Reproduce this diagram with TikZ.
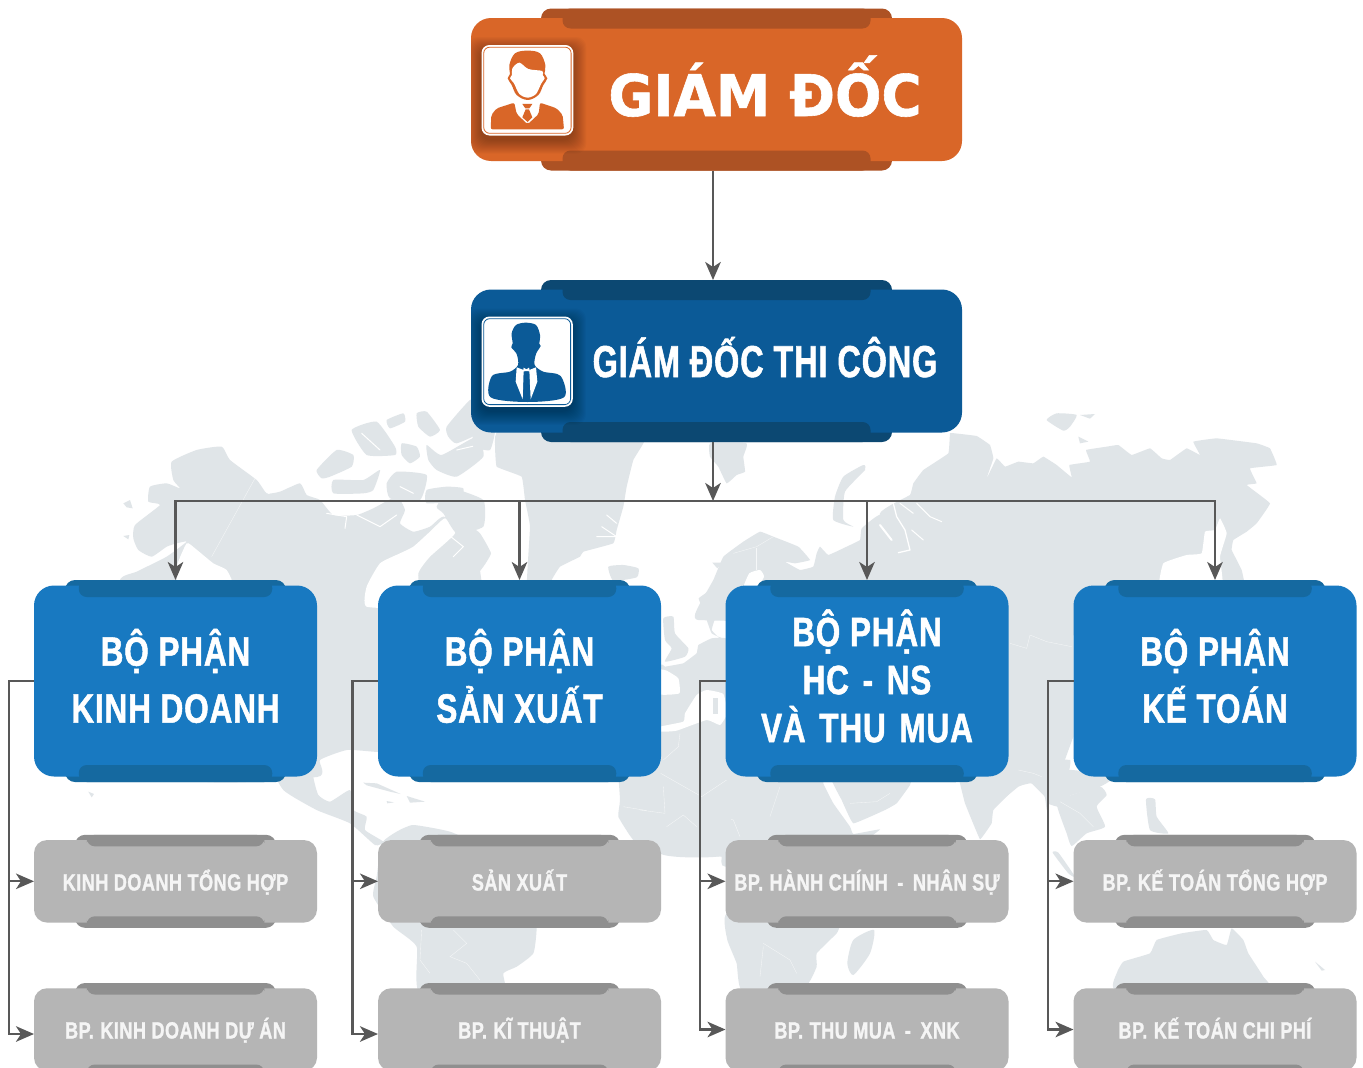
\documentclass[tikz,border=0pt]{standalone}
\usepackage{fontspec}
\usetikzlibrary{arrows.meta}
\newfontfamily\condf[FakeStretch=0.77,FakeBold=1.2,LetterSpace=2]{Liberation Sans Bold}
\newfontfamily\condt[FakeStretch=0.725,FakeBold=1.2,LetterSpace=2]{Liberation Sans Bold}
\newfontfamily\widef[FakeStretch=0.95,FakeBold=1]{DejaVu Sans Bold}
\definecolor{landc}{HTML}{E0E5E8}
\definecolor{linec}{HTML}{585858}
\definecolor{gdm}{HTML}{D96628}\definecolor{gdd}{HTML}{AD5224}
\definecolor{tcm}{HTML}{0B5A97}\definecolor{tcd}{HTML}{0C4872}
\definecolor{dpm}{HTML}{1879C1}\definecolor{dpd}{HTML}{1569A0}
\definecolor{grm}{HTML}{B5B5B5}\definecolor{grd}{HTML}{8F8F8F}
\tikzset{
  zoomed/.style 2 args={shift={(#1,#2)},x=0.33333pt,y=-0.33333pt},
  land/.style={fill=landc},
  sea/.style={fill=white},
  inlet/.style={draw=white,line width=1pt,line join=round,line cap=round},
  border/.style={draw=white,line width=0.35pt,opacity=.7},
  conn/.style={draw=linec,line width=2.3pt,-{Stealth[length=18pt,width=15.5pt,inset=5pt]}},
  panel/.style={inner sep=0pt,outer sep=0pt},
  lab/.style={inner sep=0pt,outer sep=0pt,text=white,align=center},
  big/.style={lab,font=\condf\fontsize{41}{57}\selectfont},
  small/.style={lab,anchor=base,text=white!96!black,font=\condf\fontsize{23.5}{28}\selectfont},
}
\def\setgd{\def\pW{491}\def\pH{143}\def\pR{20}\def\pSW{351}\def\pSH{162}\def\pTW{308}\def\pTD{20}\def\mc{gdm}\def\dc{gdd}}
\def\settc{\def\pW{491}\def\pH{143}\def\pR{20}\def\pSW{351}\def\pSH{162}\def\pTW{308}\def\pTD{20}\def\mc{tcm}\def\dc{tcd}}
\def\setdp{\def\pW{283}\def\pH{191}\def\pR{20}\def\pSW{221}\def\pSH{202}\def\pTW{193.5}\def\pTD{17}\def\mc{dpm}\def\dc{dpd}}
\def\setgr{\def\pW{283}\def\pH{82.5}\def\pR{13}\def\pSW{201}\def\pSH{93}\def\pTW{177.5}\def\pTD{11.5}\def\mc{grm}\def\dc{grd}}
\newcommand\bpgap{\hspace{6.5pt}}
% name, centre x, centre y, kind
\newcommand\orgbox[4]{%
  \csname set#4\endcsname
  \node[panel,fill=\dc,rounded corners=10pt,minimum width=\pSW pt,minimum height=\pSH pt] (#1s) at (#2,#3) {};
  \node[panel,fill=\mc,rounded corners=\pR pt,minimum width=\pW pt,minimum height=\pH pt] (#1) at (#2,#3) {};
  \fill[\dc,rounded corners=8pt] ({#2-\pTW/2},{#3-\pSH/2}) rectangle ({#2+\pTW/2},{#3-\pSH/2+\pTD});
  \fill[\dc,rounded corners=8pt] ({#2-\pTW/2},{#3+\pSH/2}) rectangle ({#2+\pTW/2},{#3+\pSH/2-\pTD});
}
% icon frame: left, top, right, bottom, panel colour, panel name
\newcommand\iconframe[6]{%
  \begin{scope}
  \clip[rounded corners=20pt] (#6.south west) rectangle (#6.north east);
  \foreach \k in {13,12,...,0}{
    \fill[black,opacity=.022,rounded corners=10pt] ({#1-\k-1},{#2-\k+5}) rectangle ({#3+\k},{#4+\k+5});
  }
  \end{scope}
  \fill[white,rounded corners=8pt] (#1,#2) rectangle (#3,#4);
  \draw[#5,line width=0.8pt,rounded corners=6pt] ({#1+2.2},{#2+2.2}) rectangle ({#3-2.2},{#4-2.2});
}
\begin{document}
\begin{tikzpicture}[x=1pt,y=-1pt]
\clip (0,0) rectangle (1363,1068);
\fill[white] (0,0) rectangle (1363,1068);

% ---------- world map ----------
\begin{scope}[zoomed={80}{400}]
  % North America
  \fill[land] plot[smooth cycle,tension=.3] coordinates {(275,185)(350,150)(425,140)(450,180)(530,240)(560,280)(600,275)(660,250)(680,285)(720,300)(760,345)(830,345)(880,325)(950,290)(975,330)(960,370)(1000,395)(1050,380)(1090,350)(1170,380)(1200,400)(1232,460)(1200,500)(1205,560)(1170,620)(1100,800)(1000,1056)(894,1056)(801,1050)(720,1080)(711,1131)(300,1130)(120,700)(120,540)(170,515)(260,470)(320,425)(290,430)(260,440)(215,470)(175,450)(160,415)(165,375)(240,315)(205,305)(210,260)(260,250)(300,265)(280,240)};
  % Gulf of Alaska
  \fill[sea] plot[smooth cycle,tension=.3] coordinates {(290,500)(320,430)(345,445)(400,490)(440,510)(455,560)(300,560)};
  % Hudson Bay
  \fill[sea] plot[smooth cycle,tension=.3] coordinates {(860,560)(900,490)(960,460)(1000,440)(1050,395)(1095,355)(1125,400)(1050,470)(1015,520)(1015,620)(860,620)};
  % Arctic islands
  \fill[land] plot[smooth cycle,tension=.3] coordinates {(815,90)(890,65)(945,140)(945,165)(860,165)};
  \fill[land] plot[smooth cycle,tension=.3] coordinates {(920,60)(970,40)(975,65)(930,85)};
  \fill[land] plot[smooth cycle,tension=.3] coordinates {(1010,40)(1040,35)(1080,90)(1050,110)(1015,80)};
  \fill[land] plot[smooth cycle,tension=.3] coordinates {(1100,80)(1170,0)(1210,0)(1210,90)(1130,130)(1105,110)};
  \fill[land] plot[smooth cycle,tension=.3] coordinates {(965,130)(1010,140)(1020,170)(990,190)(965,165)};
  \fill[land] plot[smooth cycle,tension=.3] coordinates {(1040,135)(1085,165)(1190,110)(1210,170)(1130,230)(1070,210)(1045,180)};
  \fill[land] plot[smooth cycle,tension=.3] coordinates {(710,210)(770,150)(820,165)(815,200)(750,230)(725,235)};
  \fill[land] plot[smooth cycle,tension=.3] coordinates {(760,240)(850,240)(900,210)(880,270)(850,280)(760,280)};
  \fill[land] plot[smooth cycle,tension=.3] coordinates {(920,250)(950,215)(1040,225)(1020,300)(930,295)};
  \fill[land] plot[smooth cycle,tension=.3] coordinates {(1040,270)(1100,260)(1150,265)(1140,300)(1040,310)};
  \fill[land] plot[smooth cycle,tension=.3] coordinates {(1070,320)(1110,265)(1210,300)(1210,380)(1130,400)(1090,340)};
  \fill[land] (130,310)--(150,300)--(158,325)--(140,322)--cycle;
  \fill[land] (130,408)--(148,405)--(145,418)--cycle;
  \draw[border] (525,235)--(395,470);
  \draw[inlet] (565,280)--(640,255);
  \draw[inlet] (740,340)--(800,350)--(795,385);
  \draw[inlet] (830,345)--(900,380)--(950,345);
  \draw[inlet] (845,100)--(900,150);
  \draw[inlet] (1130,150)--(1195,135);
  \draw[inlet] (960,260)--(1000,280);
  \draw[inlet] (1100,400)--(1150,440)--(1120,470);
\end{scope}
\begin{scope}[zoomed={0}{570}]
  \fill[land] (265,665)--(282,672)--(275,682)--cycle;
\end{scope}
\begin{scope}[zoomed={250}{760}]
  % Mexico and Central America
  \fill[land] plot[smooth cycle,tension=.3] coordinates {(60,0)(100,90)(200,150)(300,190)(375,255)(400,245)(345,210)(350,170)(310,150)(300,90)(240,125)(205,105)(190,50)(200,0)};
  % Caribbean
  \fill[land] (340,68)--(380,70)--(452,102)--(420,95)--(350,76)--cycle;
  \fill[land] (470,108)--(525,125)--(480,128)--cycle;
  \fill[land] (410,123)--(432,127)--(412,130)--cycle;
  % South America
  \fill[land] plot[smooth cycle,tension=.3] coordinates {(440,215)(490,195)(600,215)(700,260)(860,340)(860,505)(850,580)(800,620)(760,640)(757,700)(510,700)(500,560)(430,500)(370,410)(380,350)(395,250)};
  \draw[border] (515,510)--(510,600)--(540,640);
  \draw[border] (610,510)--(650,550)--(600,590)--(650,610)--(690,660);
  % West Africa
  \fill[land] plot[smooth cycle,tension=.2] coordinates {(1110,-100)(1110,120)(1105,170)(1150,240)(1230,280)(1280,285)(1350,265)(1440,265)(1440,-100)};
  \draw[border] (1120,140)--(1240,160)--(1210,220);
  \draw[border] (1230,50)--(1340,110);
\end{scope}
\begin{scope}[zoomed={650}{760}]
  % Africa, north and centre
  \fill[land] plot[smooth cycle,tension=.15] coordinates {(0,0)(520,0)(520,70)(550,130)(600,200)(610,222)(690,208)(650,240)(660,270)(226,320)(215,290)(190,288)(130,265)(0,280)};
  % Arabia
  \fill[land] plot[smooth cycle,tension=.15] coordinates {(540,40)(780,40)(780,75)(740,130)(705,150)(610,190)(575,120)};
  \draw[border] (150,150)--(250,180)--(270,230);
  \draw[border] (60,180)--(110,165)--(150,190);
  \draw[border] (360,170)--(390,80);
  \draw[border] (600,130)--(680,125)--(720,100);
  % Southern Africa
  \fill[land] plot[smooth cycle,tension=.2] coordinates {(232,460)(560,460)(570,495)(560,520)(500,580)(500,620)(465,680)(275,690)(260,610)(232,540)};
  \draw[border] (340,560)--(330,650);
  \draw[border] (340,550)--(420,600)--(440,640);
  % Madagascar
  \fill[land] plot[smooth cycle,tension=.4] coordinates {(610,540)(672,510)(660,580)(610,645)(592,610)};
  % India and mainland Asia south of the panels
  \fill[land] plot[smooth cycle,tension=.1] coordinates {(920,0)(930,70)(945,130)(990,238)(1025,190)(1030,150)(1100,80)(1140,70)(1170,75)(1192,130)(1230,140)(1260,0)};
  \draw[border] (1100,75)--(1130,30)--(1170,60);
\end{scope}
\begin{scope}[zoomed={1000}{770}]
  % Indochina
  \fill[land] plot[smooth cycle,tension=.3] coordinates {(120,60)(170,100)(215,75)(300,50)(340,20)(200,0)};
  \fill[land] plot[smooth cycle,tension=.3] coordinates {(170,100)(215,75)(300,50)(320,75)(290,110)(315,170)(260,190)(215,228)(200,190)};
  \draw[border] (180,95)--(240,130)--(280,170);
  % Sumatra and Philippines
  \fill[land] plot[smooth cycle,tension=.3] coordinates {(158,248)(175,248)(225,320)(205,310)};
  \fill[land] plot[smooth cycle,tension=.3] coordinates {(438,88)(465,88)(470,140)(505,190)(450,180)};
  % Australia
  \fill[land] plot[smooth cycle,tension=.2] coordinates {(350,610)(370,575)(450,550)(470,510)(545,490)(620,480)(640,510)(680,525)(695,475)(730,510)(745,550)(790,620)(805,660)(350,660)};
  % New Zealand
  \fill[land] (945,575)--(975,600)--(965,602)--cycle;
\end{scope}
\begin{scope}[zoomed={640}{570}]
  % Europe and North Africa gap
  \fill[land] plot[smooth cycle,tension=.1] coordinates {(62,290)(75,290)(130,280)(170,250)(175,225)(215,205)(270,215)(270,850)(62,850)};
  \fill[sea] plot[smooth cycle,tension=.25] coordinates {(55,300)(80,302)(115,325)(118,370)(55,372)};
  \fill[sea] plot[smooth cycle,tension=.25] coordinates {(60,470)(130,455)(135,430)(170,375)(200,360)(250,372)(262,430)(240,465)(200,450)(110,482)(60,485)};
  \fill[land] (220,385)--(235,385)--(235,432)--(220,432)--cycle;
  % Great Britain
  \fill[land] plot[smooth cycle,tension=.3] coordinates {(70,145)(100,140)(105,190)(145,235)(135,260)(75,275)(95,235)(75,210)};
  % Scandinavia
  \fill[land] plot[smooth cycle,tension=.15] coordinates {(176,85)(210,60)(245,0)(270,-30)(270,150)(235,120)(215,180)(250,215)(270,215)(215,190)(190,120)};
  \draw[border] (62,610)--(185,680)--(260,630);
  \draw[border] (70,650)--(75,730)--(0,720);
  \draw[border] (80,770)--(130,735)--(170,770);
  \draw[border] (120,490)--(115,530)--(70,570);
\end{scope}
\begin{scope}[zoomed={480}{420}]
  % Labrador edge
  \fill[land] plot[smooth cycle,tension=.3] coordinates {(-20,340)(10,370)(33,400)(10,440)(-20,470)};
  \fill[land] plot[smooth cycle,tension=.3] coordinates {(-20,40)(10,20)(45,30)(30,90)(-20,80)};
  % Greenland
  \fill[land] plot[smooth cycle,tension=.15] coordinates {(45,70)(60,30)(490,30)(490,70)(460,120)(440,200)(430,260)(410,330)(400,370)(310,395)(300,410)(240,440)(215,480)(215,520)(140,520)(150,320)(135,240)(125,170)(50,140)};
  \draw[inlet] (350,350)--(410,350)--(365,320);
  \draw[inlet] (380,285)--(410,310);
  % Iceland
  \fill[land] plot[smooth cycle,tension=.3] coordinates {(385,440)(430,435)(475,445)(470,472)(400,482)};
  % Svalbard
  \fill[land] plot[smooth cycle,tension=.2] coordinates {(690,70)(800,70)(790,110)(795,155)(770,165)(740,190)(715,140)(690,110)};
  % small island
  \fill[land] (697,428)--(730,428)--(712,445)--cycle;
  % Novaya Zemlya
  \fill[land] plot[smooth cycle,tension=.3] coordinates {(1150,135)(1155,150)(1095,215)(1090,300)(1120,320)(1060,300)(1065,230)(1090,170)};
  % Scandinavia and western Russia
  \fill[land] plot[smooth cycle,tension=.15] coordinates {(655,560)(700,480)(730,410)(790,365)(840,335)(880,350)(955,380)(990,420)(945,430)(915,425)(960,450)(1000,440)(1010,400)(1020,380)(1045,405)(1100,380)(1140,360)(1145,325)(1205,285)(1205,600)(655,600)};
  % Baltic
  \fill[sea] plot[smooth cycle,tension=.3] coordinates {(790,505)(808,460)(840,450)(852,470)(830,505)};
  \draw[border] (760,400)--(830,380)--(880,350);
  \draw[border] (830,385)--(830,450);
\end{scope}
\begin{scope}[zoomed={880}{400}]
  % Northern Asia
  \fill[land] plot[smooth cycle,tension=.12] coordinates {(0,340)(90,285)(100,250)(130,210)(205,160)(210,100)(225,100)(290,108)(330,135)(340,175)(318,240)(350,175)(375,200)(415,185)(460,190)(490,170)(530,195)(575,232)(568,195)(630,185)(618,150)(680,140)(715,135)(755,165)(810,145)(845,175)(870,180)(920,145)(960,165)(940,125)(1010,115)(1130,130)(1170,145)(1190,195)(1110,205)(1130,250)(1100,255)(1170,310)(1130,370)(1100,395)(1060,420)(1055,450)(1085,510)(1095,560)(1095,700)(0,700)};
  % Okhotsk side
  \fill[sea] plot[smooth cycle,tension=.2] coordinates {(840,570)(850,490)(920,465)(965,460)(975,395)(1005,390)(1020,355)(1040,400)(1020,470)(1025,570)};
  % Siberian islands
  \fill[land] plot[smooth cycle,tension=.3] coordinates {(500,60)(530,40)(590,45)(570,80)(550,92)};
  \fill[land] (600,45)--(645,42)--(630,56)--cycle;
  \fill[land] (595,110)--(625,125)--(600,130)--cycle;
  % Ob and Yenisei inlets
  \draw[inlet,line width=2pt] (0,375)--(35,420);
  \draw[inlet,line width=1.3pt] (40,310)--(50,350)--(75,390)--(90,450)--(55,458);
  \draw[inlet] (60,310)--(100,340);
  \draw[inlet] (110,310)--(150,350)--(185,365);
  \draw[inlet] (95,390)--(130,420);
\end{scope}
\begin{scope}[zoomed={990}{570}]
  \fill[land] (-10,-100)--(250,-100)--(250,500)--(170,720)--(165,680)--(120,635)--(85,650)--(0,720)--(-10,730)--cycle;
  \draw[border] (60,220)--(110,235)--(120,195)--(170,215)--(245,230);
  \draw[border] (85,600)--(130,610)--(155,620);
\end{scope}

% ---------- panels ----------
\orgbox{gd}{716.5}{89.5}{gd}
\orgbox{tc}{716.5}{361}{tc}
\orgbox{da}{175.5}{681}{dp}
\orgbox{db}{519.5}{681}{dp}
\orgbox{dc}{867}{681}{dp}
\orgbox{dd}{1215}{681}{dp}
\orgbox{aa}{175.5}{881.3}{gr}
\orgbox{ba}{519.5}{881.3}{gr}
\orgbox{ca}{867}{881.3}{gr}
\orgbox{ea}{1215}{881.3}{gr}
\orgbox{ab}{175.5}{1029.5}{gr}
\orgbox{bb}{519.5}{1029.5}{gr}
\orgbox{cb}{867}{1029.5}{gr}
\orgbox{eb}{1215}{1029.5}{gr}

% ---------- icons ----------
\iconframe{481.5}{45}{573.3}{135.5}{gdm}{gd}
\begin{scope}[zoomed={460}{0}]
  \fill[gdm] plot[smooth cycle,tension=.6] coordinates {(203,152)(240,160)(256,195)(254,222)(262,235)(250,255)(235,285)(203,300)(170,285)(155,255)(143,235)(150,222)(148,195)(165,160)};
  \fill[white] plot[smooth cycle,tension=.5] coordinates {(178,188)(205,207)(247,213)(248,225)(254,235)(244,250)(228,282)(203,293)(178,282)(162,250)(150,235)(156,225)(157,205)};
  \fill[gdm,rounded corners=2pt] (92,388)--(94,345)--(110,325)--(163,308)--(170,342)--(203,373)--(236,342)--(240,308)--(290,325)--(308,345)--(312,388)--cycle;
  \fill[gdm] (187,312)--(217,312)--(208,325)--(196,325)--cycle;
  \fill[gdm] (197,328)--(207,328)--(217,352)--(203,366)--(187,352)--cycle;
\end{scope}
\iconframe{481.5}{316.5}{572.8}{406.8}{tcm}{tc}
\begin{scope}[zoomed={460}{270}]
  \fill[tcm] plot[smooth cycle,tension=.5] coordinates {(197,158)(228,165)(240,195)(238,222)(242,228)(228,252)(224,285)(250,305)(302,318)(312,382)(203,396)(92,382)(96,318)(150,305)(174,285)(170,252)(154,232)(158,220)(155,190)(168,165)};
  \fill[white] (170,292)--(167,335)--(188,388)--(191,300)--cycle;
  \fill[white] (228,292)--(232,335)--(212,388)--(208,300)--cycle;
  \fill[white] (191,293)--(199,298)--(207,293)--(210,305)--(203,303)--(197,303)--(189,305)--cycle;
\end{scope}

% ---------- labels ----------
\node[lab,anchor=base,font=\widef\fontsize{57.5}{60}\selectfont] (gdt) at (765,116) {GIÁM ĐỐC};
\node[lab,anchor=base,font=\condt\fontsize{44.7}{50}\selectfont] (tct) at (765,377) {GIÁM ĐỐC THI CÔNG};
\node[big] (dat) at (175.5,676) {BỘ PHẬN\\KINH DOANH};
\node[big] (dbt) at (519.5,676) {BỘ PHẬN\\SẢN XUẤT};
\node[big,font=\condf\fontsize{41}{48}\selectfont] (dct) at (867,676) {BỘ PHẬN\\HC\hspace{4pt} - \hspace{4pt}NS\\VÀ\hspace{4pt} THU\hspace{4pt} MUA};
\node[big] (ddt) at (1215,676) {BỘ PHẬN\\KẾ TOÁN};
\node[small] (aat) at (175.5,890.5) {KINH DOANH TỔNG HỢP};
\node[small] (bat) at (519.5,890.5) {SẢN XUẤT};
\node[small] (cat) at (867,890.5) {BP.\bpgap HÀNH CHÍNH\hspace{4pt} - \hspace{4pt}NHÂN SỰ};
\node[small] (eat) at (1215,890.5) {BP.\bpgap KẾ TOÁN TỔNG HỢP};
\node[small] (abt) at (175.5,1038.5) {BP.\bpgap KINH DOANH DỰ ÁN};
\node[small] (bbt) at (519.5,1038.5) {BP.\bpgap KĨ THUẬT};
\node[small] (cbt) at (867,1038.5) {BP.\bpgap THU MUA\hspace{4pt} - \hspace{4pt}XNK};
\node[small] (ebt) at (1215,1038.5) {BP.\bpgap KẾ TOÁN CHI PHÍ};

% ---------- connectors ----------
\coordinate (bus) at (713,501);
\coordinate (ra) at (9,681);
\coordinate (rb) at (352.5,681);
\coordinate (rc) at (700,681);
\coordinate (rd) at (1048,681);
\draw[conn] ([xshift=-3.5pt]gds.south) -- ([xshift=-3.5pt]tcs.north);
\draw[conn] ([xshift=-3.5pt]tcs.south) -- (bus);
\draw[conn] (bus) -| (das.north);
\draw[conn] (bus) -| (dbs.north);
\draw[conn] (bus) -| (dcs.north);
\draw[conn] (bus) -| (dds.north);
\draw[conn] (da.west) -- (ra) |- (aa.west);
\draw[conn] (ra) |- ([yshift=-4.5pt]ab.west);
\draw[conn] (db.west) -- (rb) |- (ba.west);
\draw[conn] (rb) |- ([yshift=-4.5pt]bb.west);
\draw[conn] (dc.west) -- (rc) |- (ca.west);
\draw[conn] (rc) |- (cb.west);
\draw[conn] (dd.west) -- (rd) |- (ea.west);
\draw[conn] (rd) |- (eb.west);
\end{tikzpicture}
\end{document}
